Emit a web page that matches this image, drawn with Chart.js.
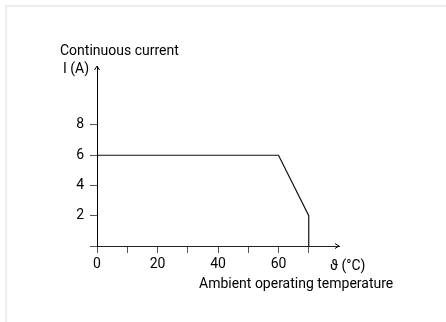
<!DOCTYPE html>
<html>
<head>
<meta charset="utf-8">
<script src="https://cdn.jsdelivr.net/npm/chart.js@4"></script>
<style>
  html, body { margin: 0; padding: 0; background: #fff; }
  #frame {
    position: absolute; left: 5px; top: 5px; width: 441px; height: 317px;
    border-left: 2px solid #eeeeee; border-top: 2px solid #eeeeee;
    box-sizing: border-box;
  }
  #wrap { position: absolute; left: 0; top: 0; width: 446px; height: 322px; }
</style>
</head>
<body>
<div id="frame"></div>
<div id="wrap"><canvas id="derating"></canvas></div>
<script>
// derating curve: continuous current vs ambient temperature
const temps = [0, 60, 70, 70];
const currents = [6, 6, 2, 0];

const xTicks = [0, 10, 20, 30, 40, 50, 60, 70];
const xLabelled = [0, 20, 40, 60];
const yTicks = [0, 2, 4, 6, 8];
const yLabelled = [2, 4, 6, 8];

const FONT = "Roboto, 'Liberation Sans', sans-serif";

/* ---------- axis arrows and titles ---------- */

const axisDecor = {
  id: "axisDecor",
  afterDraw(chart) {
    const { ctx, chartArea: a } = chart;
    const x0 = chart.scales.x.getPixelForValue(0);
    const y0 = chart.scales.y.getPixelForValue(0);

    ctx.save();
    ctx.strokeStyle = "#000";
    ctx.lineWidth = 1;

    // arrow head on top of the current axis
    ctx.beginPath();
    ctx.moveTo(x0 - 2.5, a.top + 4);
    ctx.lineTo(x0, a.top);
    ctx.lineTo(x0 + 2.5, a.top + 4);
    ctx.stroke();

    // arrow head at the end of the temperature axis
    ctx.beginPath();
    ctx.moveTo(a.right - 4, y0 - 2.5);
    ctx.lineTo(a.right, y0);
    ctx.lineTo(a.right - 4, y0 + 2.5);
    ctx.stroke();

    ctx.fillStyle = "#000";
    ctx.font = "14px " + FONT;
    ctx.textBaseline = "alphabetic";
    ctx.textAlign = "left";
    ctx.fillText("Continuous current", 60, 55);
    ctx.fillText("I (A)", 63, 73);
    ctx.fillText("ϑ (°C)", 330, 270);
    ctx.fillText("Ambient operating temperature", 199, 288);
    ctx.restore();
  },
};

/* ---------- chart ---------- */

new Chart(document.getElementById("derating"), {
  type: "scatter",
  data: {
    datasets: [{
      data: temps.map((t, i) => ({ x: t, y: currents[i] })),
      showLine: true,
      borderColor: "#111",
      borderWidth: 1.2,
      pointRadius: 0,
      tension: 0,
    }],
  },
  options: {
    responsive: true,
    maintainAspectRatio: false,
    animation: false,
    layout: { padding: { left: 0, top: 66, right: 107, bottom: 0 } },
    plugins: { legend: { display: false }, tooltip: { enabled: false } },
    scales: {
      x: {
        type: "linear",
        min: 0,
        max: 80,
        afterFit: (s) => { s.height = 76; },
        afterBuildTicks: (s) => { s.ticks = xTicks.map((v) => ({ value: v })); },
        grid: { drawOnChartArea: false, drawTicks: true, tickLength: 7, color: "#555", lineWidth: 1 },
        border: { display: true, color: "#222", width: 1 },
        ticks: {
          autoSkip: false,
          maxRotation: 0,
          padding: 3,
          color: "#000",
          font: { family: FONT, size: 14 },
          callback: (v) => (xLabelled.includes(v) ? String(v) : ""),
        },
      },
      y: {
        type: "linear",
        min: 0,
        max: 11.9,
        afterFit: (s) => { s.width = 97; },
        afterBuildTicks: (s) => { s.ticks = yTicks.map((v) => ({ value: v })); },
        grid: { drawOnChartArea: false, drawTicks: true, tickLength: 7, color: "#555", lineWidth: 1 },
        border: { display: true, color: "#000", width: 1 },
        ticks: {
          autoSkip: false,
          padding: 6,
          color: "#000",
          font: { family: FONT, size: 14 },
          callback: (v) => (yLabelled.includes(v) ? String(v) : ""),
        },
      },
    },
  },
  plugins: [axisDecor],
});
</script>
</body>
</html>
